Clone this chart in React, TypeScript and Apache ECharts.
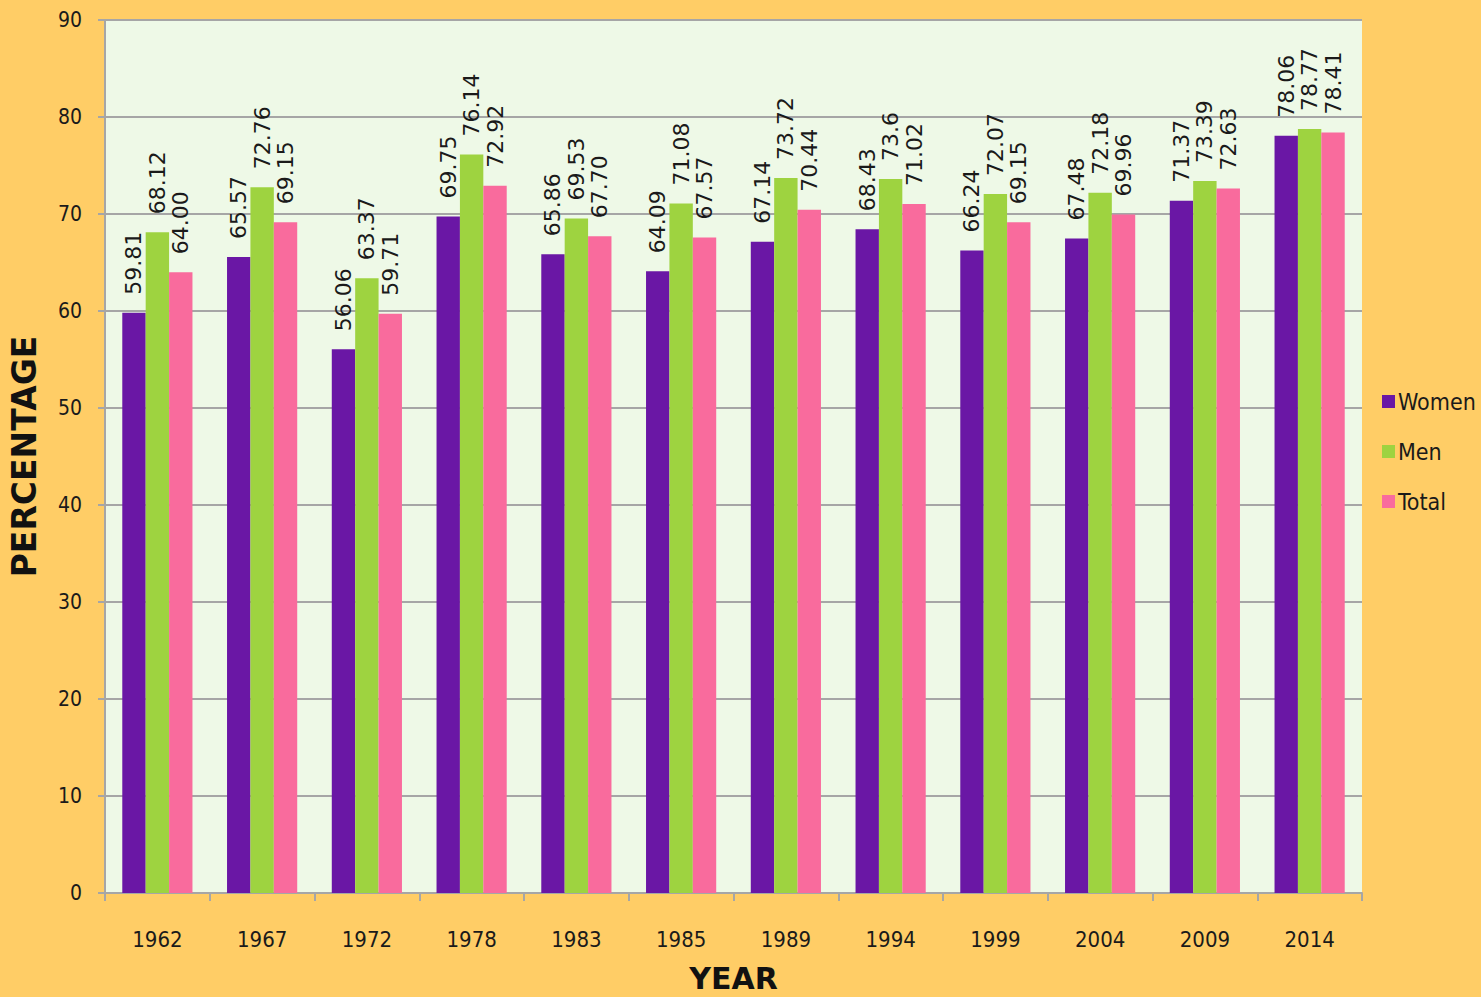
import React, { useEffect, useRef } from "react";
import * as echarts from "echarts";

const years = ["1962", "1967", "1972", "1978", "1983", "1985", "1989", "1994", "1999", "2004", "2009", "2014"];
const womenLabels = ["59.81", "65.57", "56.06", "69.75", "65.86", "64.09", "67.14", "68.43", "66.24", "67.48", "71.37", "78.06"];
const menLabels = ["68.12", "72.76", "63.37", "76.14", "69.53", "71.08", "73.72", "73.6", "72.07", "72.18", "73.39", "78.77"];
const totalLabels = ["64.00", "69.15", "59.71", "72.92", "67.70", "67.57", "70.44", "71.02", "69.15", "69.96", "72.63", "78.41"];
const yTicks = [0, 10, 20, 30, 40, 50, 60, 70, 80, 90];

const women = womenLabels.map(Number);
const men = menLabels.map(Number);
const total = totalLabels.map(Number);

const labelFont = "'DejaVu Sans', Verdana, sans-serif";
const axisFont = "'DejaVu Sans Condensed', 'DejaVu Sans', sans-serif";

function makeSeries(name: string, data: number[], labels: string[], color: string) {
  return {
    name,
    type: "bar",
    data,
    barGap: "0%",
    barCategoryGap: "33%",
    itemStyle: { color },
    label: {
      show: true,
      position: "top",
      rotate: 90,
      align: "left",
      verticalAlign: "middle",
      distance: 18,
      fontSize: 22,
      fontFamily: labelFont,
      color: "#1a1a1a",
      formatter: (p: any) => labels[p.dataIndex],
    },
  };
}

export default function App() {
  const ref = useRef<HTMLDivElement>(null);
  useEffect(() => {
    document.body.style.margin = "0";
    const chart = echarts.init(ref.current!, null, { renderer: "svg" });
    chart.setOption({
      animation: false,
      backgroundColor: "#FFCD66",
      grid: {
        left: 105,
        right: 119,
        top: 20,
        bottom: 104,
        containLabel: false,
        outerBoundsMode: "none",
        show: true,
        backgroundColor: "#EEF9E7",
        borderWidth: 0,
      },
      legend: {
        orient: "vertical",
        left: 1377,
        top: 385,
        itemWidth: 13,
        itemHeight: 13,
        itemGap: 27,
        icon: "rect",
        textStyle: { fontSize: 23, fontFamily: axisFont, color: "#1a1a1a", padding: [0, 0, 0, -2] },
        data: ["Women", "Men", "Total"],
      },
      xAxis: {
        type: "category",
        data: years,
        name: "YEAR",
        nameLocation: "middle",
        nameGap: 70,
        nameTextStyle: { fontSize: 30, fontWeight: "bold", fontFamily: labelFont, color: "#111" },
        axisLine: { lineStyle: { color: "#A6A6A6", width: 2 } },
        axisTick: { show: true, length: 8, lineStyle: { color: "#A6A6A6", width: 2 } },
        axisLabel: { fontSize: 22, fontFamily: axisFont, color: "#1a1a1a", margin: 35 },
      },
      yAxis: {
        type: "value",
        min: yTicks[0],
        max: yTicks[yTicks.length - 1],
        interval: 10,
        name: "PERCENTAGE",
        nameLocation: "middle",
        nameGap: 64,
        nameTextStyle: { fontSize: 33, fontWeight: "bold", fontFamily: labelFont, color: "#111" },
        axisLine: { show: true, lineStyle: { color: "#A6A6A6", width: 2 } },
        axisTick: { show: true, length: 7, lineStyle: { color: "#A6A6A6", width: 2 } },
        axisLabel: { fontSize: 21, fontFamily: axisFont, color: "#1a1a1a", margin: 23 },
        splitLine: { show: true, lineStyle: { color: "#A6A6A6", width: 2 } },
      },
      series: [
        makeSeries("Women", women, womenLabels, "#6A17A5"),
        makeSeries("Men", men, menLabels, "#9ED340"),
        makeSeries("Total", total, totalLabels, "#F96B9D"),
      ],
    });
    return () => chart.dispose();
  }, []);
  return <div ref={ref} style={{ width: 1481, height: 997 }} />;
}
